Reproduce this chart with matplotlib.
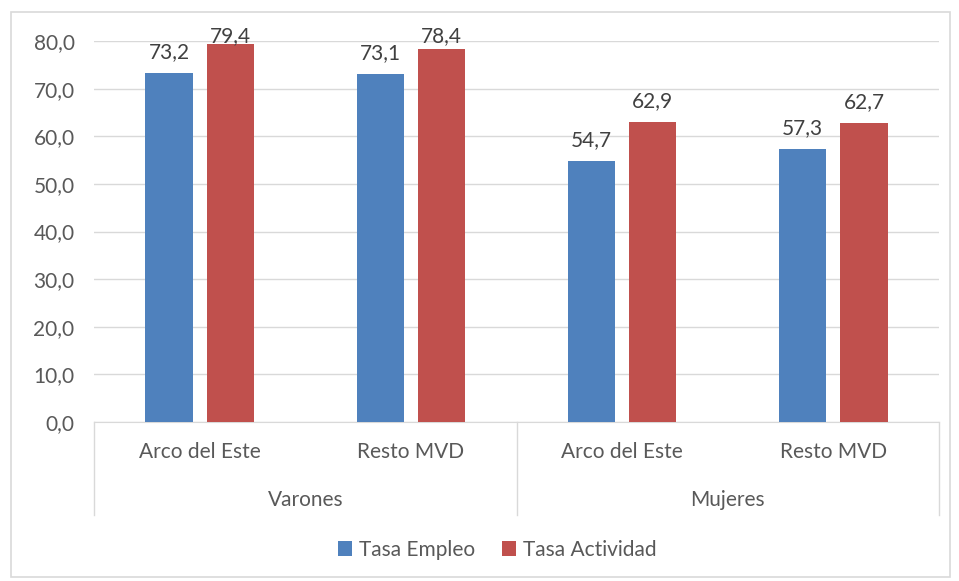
import numpy as np
import matplotlib.pyplot as plt
from matplotlib.patches import Rectangle
from matplotlib.lines import Line2D

plt.rcParams['font.family'] = ['Lato', 'DejaVu Sans']

categorias = ['Arco del Este', 'Resto MVD', 'Arco del Este', 'Resto MVD']
grupos = ['Varones', 'Mujeres']
tasa_empleo = [73.2, 73.1, 54.7, 57.3]
tasa_actividad = [79.4, 78.4, 62.9, 62.7]
series = ['Tasa Empleo', 'Tasa Actividad']

azul = '#4F81BD'
rojo = '#C0504D'
gris_txt = '#595959'
gris_lin = '#D9D9D9'
fs = 15

W, H = 959, 581
fig = plt.figure(figsize=(W / 100, H / 100), dpi=100)
ax = fig.add_axes([94 / W, 1 - 422 / H, (939 - 94) / W, (422 - 41) / H])

x = np.arange(len(categorias))
ancho = 0.223
desp = 0.145
b1 = ax.bar(x - desp, tasa_empleo, ancho, color=azul, label=series[0], zorder=3)
b2 = ax.bar(x + desp, tasa_actividad, ancho, color=rojo, label=series[1], zorder=3)

# etiquetas de datos (las mas altas quedan limitadas por el area del grafico)
for barras in (b1, b2):
    for b in barras:
        v = b.get_height()
        ax.text(b.get_x() + b.get_width() / 2, min(v + 3.2, 79.8),
                f'{v:.1f}'.replace('.', ','), ha='center', va='baseline',
                fontsize=fs, color='#404040', clip_on=False)

ax.set_xlim(-0.5, len(categorias) - 0.5)
ax.set_ylim(0, 80)
ax.set_yticks(np.arange(0, 81, 10))
ax.set_yticklabels([f'{v:.1f}'.replace('.', ',') for v in np.arange(0, 81, 10)])
ax.tick_params(axis='y', length=0, labelsize=fs, labelcolor=gris_txt, pad=14)
ax.set_xticks([])
ax.grid(axis='y', color=gris_lin, linewidth=1, zorder=0)
for s in ['top', 'right', 'left']:
    ax.spines[s].set_visible(False)
ax.spines['bottom'].set_color(gris_lin)

# etiquetas de categoria en dos niveles
trans = ax.get_xaxis_transform()
y_cat = -(452 - 422) / (422 - 41)
y_grp = -(500 - 422) / (422 - 41)
y_fin = -(515 - 422) / (422 - 41)
for i, c in enumerate(categorias):
    ax.text(i, y_cat, c, transform=trans, ha='center', va='center',
            fontsize=fs, color=gris_txt)
for j, g in enumerate(grupos):
    ax.text(2 * j + 0.5, y_grp, g, transform=trans, ha='center', va='center',
            fontsize=fs, color=gris_txt)
for xs in [-0.5, 1.5, 3.5]:
    ax.add_line(Line2D([xs, xs], [0, y_fin], transform=trans, color=gris_lin,
                       linewidth=1, clip_on=False))

fig.legend(handles=[b1, b2], labels=series, loc='center',
           bbox_to_anchor=(497 / W, 1 - 550 / H), ncol=2, frameon=False,
           fontsize=fs, labelcolor=gris_txt, handlelength=0.7, handleheight=0.7,
           handletextpad=0.3, columnspacing=1.3)

fig.patches.append(Rectangle((11 / W, 1 - 577 / H), (950 - 11) / W, (577 - 12) / H,
                             transform=fig.transFigure, fill=False,
                             edgecolor=gris_lin, linewidth=1.2))

fig.savefig('out.png', dpi=100)
